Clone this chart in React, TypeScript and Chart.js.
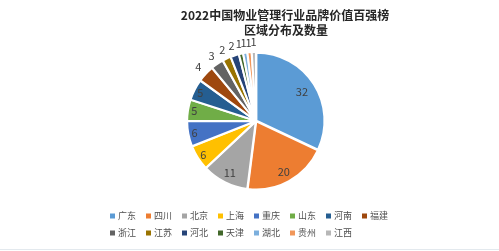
import React, { useEffect, useRef } from "react";
import { Chart, registerables } from "chart.js";

Chart.register(...registerables);

const regions = ["广东", "四川", "北京", "上海", "重庆", "山东", "河南", "福建", "浙江", "江苏", "河北", "天津", "湖北", "贵州", "江西"];
const counts = [32, 20, 11, 6, 6, 5, 5, 4, 3, 2, 2, 1, 1, 1, 1];
const colors = ["#5B9BD5", "#ED7D31", "#A5A5A5", "#FFC000", "#4472C4", "#70AD47", "#255E91", "#9E480E", "#636363", "#997300", "#264478", "#43682B", "#7CAFDD", "#F1975A", "#B7B7B7"];
const titleLines = ["2022中国物业管理行业品牌价值百强榜", "区域分布及数量"];

const CJK = '"Noto Sans CJK SC", "Noto Sans", sans-serif';

// label radius as a fraction of the pie radius: big slices sit deeper inside
function labelRadius(value: number, outer: number) {
  if (value < 5) return outer + 11;
  if (value >= 30) return outer * 0.8;
  if (value >= 11) return outer * 0.85;
  return outer * 0.92;
}

// Title, value labels and a grid-style legend drawn on the canvas
const decorations = {
  id: "decorations",
  afterDraw(chart: any) {
    const ctx = chart.ctx;
    const meta = chart.getDatasetMeta(0);
    ctx.save();

    // title
    ctx.fillStyle = "#262626";
    ctx.font = `bold 12px ${CJK}`;
    ctx.textAlign = "center";
    ctx.textBaseline = "middle";
    ctx.fillText(titleLines[0], 285, 15);
    ctx.fillText(titleLines[1], 286, 30);

    // value labels
    ctx.font = `11px ${CJK}`;
    ctx.fillStyle = "#404040";
    meta.data.forEach((arc: any, i: number) => {
      const { x, y, startAngle, endAngle, outerRadius } = arc.getProps(["x", "y", "startAngle", "endAngle", "outerRadius"], true);
      const mid = (startAngle + endAngle) / 2;
      const r = labelRadius(counts[i], outerRadius);
      ctx.fillText(String(counts[i]), x + Math.cos(mid) * r, y + Math.sin(mid) * r);
    });

    // legend
    ctx.font = `9px ${CJK}`;
    ctx.textAlign = "left";
    regions.forEach((name, i) => {
      const col = i % 8;
      const row = Math.floor(i / 8);
      const bx = 110 + col * 36;
      const by = 216 + row * 17;
      ctx.fillStyle = colors[i];
      ctx.fillRect(bx, by - 2.5, 5, 5);
      ctx.fillStyle = "#505050";
      ctx.fillText(name, bx + 8, by);
    });

    // faint frame line at the bottom
    ctx.strokeStyle = "#e3e9ee";
    ctx.lineWidth = 1;
    ctx.beginPath();
    ctx.moveTo(0, 249.5);
    ctx.lineTo(499, 249.5);
    ctx.stroke();
    ctx.restore();
  },
};

export default function App() {
  const ref = useRef<HTMLCanvasElement>(null);
  useEffect(() => {
    if (!ref.current) return;
    const chart = new Chart(ref.current, {
      type: "pie",
      data: {
        labels: regions,
        datasets: [
          {
            data: counts,
            backgroundColor: colors,
            borderColor: "#ffffff",
            borderWidth: 2,
            offset: 2,
          },
        ],
      },
      options: {
        animation: false,
        responsive: false,
        events: [],
        layout: { padding: { top: 51, bottom: 60, left: 185, right: 172 } },
        plugins: {
          legend: { display: false },
          title: { display: false },
          tooltip: { enabled: false },
        },
      },
      plugins: [decorations],
    });
    return () => chart.destroy();
  }, []);
  return (
    <div style={{ position: "fixed", left: 0, top: 0, width: 499, height: 251, background: "#fff" }}>
      <canvas ref={ref} width={499} height={251} style={{ width: 499, height: 251 }} />
    </div>
  );
}
